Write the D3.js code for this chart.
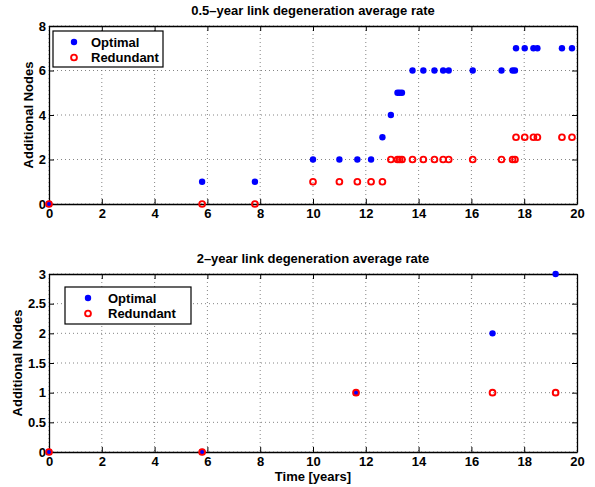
<!DOCTYPE html>
<html>
<head>
<meta charset="utf-8">
<script src="https://cdn.jsdelivr.net/npm/d3@7"></script>
<style>
  body { margin: 0; background: #fff; }
  svg text { font-family: "Liberation Sans", Arial, Helvetica, sans-serif; font-weight: bold; }
</style>
</head>
<body>
<svg id="chart" width="595" height="487"></svg>
<script>
// top panel: 0.5-year degeneration
var topTimes = [0, 5.8, 7.8, 10.0, 11.0, 11.68, 12.2, 12.63, 12.95, 13.2, 13.28, 13.37,
    13.77, 14.18, 14.6, 14.93, 15.14, 16.05, 17.14, 17.56, 17.65,
    17.69, 18.02, 18.35, 18.5, 19.43, 19.81];
var topOptimal = [0, 1, 1, 2, 2, 2, 2, 3, 4, 5, 5, 5,
    6, 6, 6, 6, 6, 6, 6, 6, 6,
    7, 7, 7, 7, 7, 7];
var topRedundant = [0, 0, 0, 1, 1, 1, 1, 1, 2, 2, 2, 2,
    2, 2, 2, 2, 2, 2, 2, 2, 2,
    3, 3, 3, 3, 3, 3];

// bottom panel: 2-year degeneration
var botTimes = [0, 5.8, 11.63, 16.8, 19.19];
var botOptimal = [0, 0, 1, 2, 3];
var botRedundant = [0, 0, 1, 1, 1];

var xTicks = [0, 2, 4, 6, 8, 10, 12, 14, 16, 18, 20];
var topYTicks = [0, 2, 4, 6, 8];
var botYTicks = [0, 0.5, 1, 1.5, 2, 2.5, 3];

var svg = d3.select("#chart");

function drawPanel(opt) {
    var x = d3.scaleLinear().domain([0, 20]).range([49, 577]);
    var y = d3.scaleLinear().domain(opt.yDomain).range([opt.bottom, opt.top]);
    var g = svg.append("g");

    // dotted grid
    g.selectAll(".vgrid").data(xTicks).enter().append("line")
        .attr("x1", d => x(d)).attr("x2", d => x(d))
        .attr("y1", opt.top).attr("y2", opt.bottom)
        .attr("stroke", "#666").attr("stroke-width", 0.8)
        .attr("stroke-dasharray", "1,3");
    g.selectAll(".hgrid").data(opt.yTicks).enter().append("line")
        .attr("x1", 49).attr("x2", 577)
        .attr("y1", d => y(d)).attr("y2", d => y(d))
        .attr("stroke", "#666").attr("stroke-width", 0.8)
        .attr("stroke-dasharray", "1,3");

    // axes with inward ticks, MATLAB box style
    var fmt = d3.format("~g");
    g.append("g").attr("transform", "translate(0," + opt.bottom + ")")
        .call(d3.axisBottom(x).tickValues(xTicks).tickSizeInner(-5).tickSizeOuter(0).tickPadding(5).tickFormat(fmt));
    g.append("g").attr("transform", "translate(0," + opt.top + ")")
        .call(d3.axisTop(x).tickValues(xTicks).tickSizeInner(-5).tickSizeOuter(0).tickFormat(""));
    g.append("g").attr("transform", "translate(49,0)")
        .call(d3.axisLeft(y).tickValues(opt.yTicks).tickSizeInner(-5).tickSizeOuter(0).tickPadding(3).tickFormat(fmt));
    g.append("g").attr("transform", "translate(577,0)")
        .call(d3.axisRight(y).tickValues(opt.yTicks).tickSizeInner(-5).tickSizeOuter(0).tickFormat(""));
    g.selectAll(".domain").attr("stroke", "#000").attr("stroke-width", 1.3);
    g.selectAll(".tick line").attr("stroke", "#000");
    g.selectAll(".tick text").attr("font-size", 13).attr("fill", "#000")
        .attr("font-family", "Liberation Sans, Arial, sans-serif").attr("font-weight", "bold");

    // title
    g.append("text").attr("x", 313).attr("y", opt.titleY)
        .attr("text-anchor", "middle").attr("font-size", 13)
        .text(opt.title);

    // y label
    g.append("text")
        .attr("transform", "translate(" + opt.yLabelX + "," + ((opt.top + opt.bottom) / 2) + ") rotate(-90)")
        .attr("text-anchor", "middle").attr("font-size", 13)
        .text("Additional Nodes");

    // markers: optimal first, redundant drawn over it
    g.selectAll(".blue").data(opt.times).enter().append("circle")
        .attr("cx", d => x(d)).attr("cy", (d, i) => y(opt.optimal[i]))
        .attr("r", 3.2).attr("fill", "#0000ff");
    g.selectAll(".red").data(opt.times).enter().append("circle")
        .attr("cx", d => x(d)).attr("cy", (d, i) => y(opt.redundant[i]))
        .attr("r", 2.9).attr("fill", "none").attr("stroke", "#ff0000").attr("stroke-width", 1.9);

    // legend
    var L = opt.legend;
    var lg = g.append("g");
    lg.append("rect").attr("x", L.x).attr("y", L.y)
        .attr("width", L.w).attr("height", L.h)
        .attr("fill", "#fff").attr("stroke", "#000").attr("stroke-width", 1.2);
    lg.append("circle").attr("cx", L.x + L.mx).attr("cy", L.y + 11)
        .attr("r", 3.2).attr("fill", "#0000ff");
    lg.append("circle").attr("cx", L.x + L.mx).attr("cy", L.y + 26.5)
        .attr("r", 2.9).attr("fill", "none").attr("stroke", "#ff0000").attr("stroke-width", 1.9);
    lg.append("text").attr("x", L.x + L.tx).attr("y", L.y + 15.5).attr("font-size", 13).text("Optimal");
    lg.append("text").attr("x", L.x + L.tx).attr("y", L.y + 31).attr("font-size", 13).text("Redundant");
}

drawPanel({
    top: 26, bottom: 204, yDomain: [0, 8], yTicks: topYTicks,
    times: topTimes, optimal: topOptimal, redundant: topRedundant,
    title: "0.5\u2013year link degeneration average rate", titleY: 15,
    yLabelX: 33, legend: {x: 53, y: 31, w: 110, h: 36, mx: 21, tx: 38}
});
drawPanel({
    top: 274, bottom: 452, yDomain: [0, 3], yTicks: botYTicks,
    times: botTimes, optimal: botOptimal, redundant: botRedundant,
    title: "2\u2013year link degeneration average rate", titleY: 262.5,
    yLabelX: 22, legend: {x: 65, y: 287, w: 126, h: 37, mx: 23, tx: 43}
});

svg.append("text").attr("x", 313).attr("y", 481)
    .attr("text-anchor", "middle").attr("font-size", 13)
    .text("Time [years]");
</script>
</body>
</html>
